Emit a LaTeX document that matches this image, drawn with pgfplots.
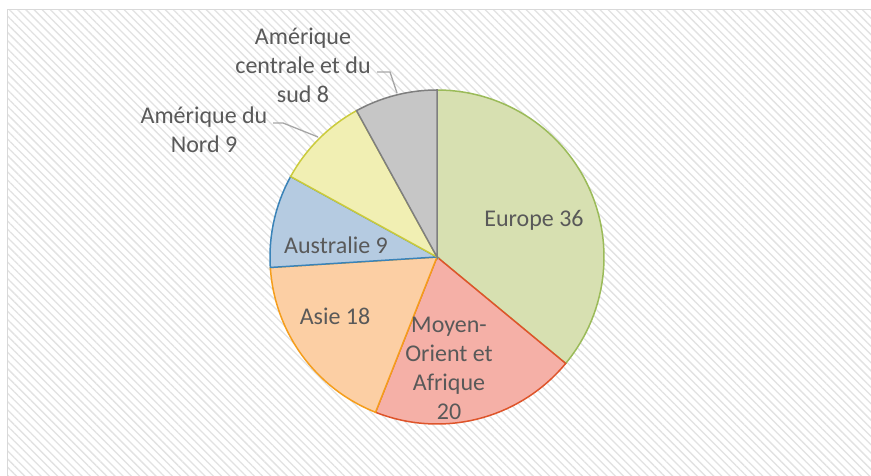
\documentclass[border=0pt]{standalone}
\usepackage{pgfplots}
\pgfplotsset{compat=1.18}
\usepackage{fontspec}
\setmainfont{Carlito}
\usetikzlibrary{patterns.meta}
\definecolor{lbl}{RGB}{89,89,89}
\definecolor{hatch}{RGB}{226,226,226}
\definecolor{frame}{RGB}{217,217,217}
\definecolor{euF}{RGB}{215,224,177}\definecolor{euD}{RGB}{155,187,89}
\definecolor{moF}{RGB}{245,176,167}\definecolor{moD}{RGB}{222,84,42}
\definecolor{asF}{RGB}{252,207,164}\definecolor{asD}{RGB}{245,158,28}
\definecolor{auF}{RGB}{181,203,225}\definecolor{auD}{RGB}{58,131,184}
\definecolor{noF}{RGB}{241,239,179}\definecolor{noD}{RGB}{203,203,60}
\definecolor{ceF}{RGB}{198,198,198}\definecolor{ceD}{RGB}{127,127,127}
% values (percent)
\def\vEu{36}\def\vMo{20}\def\vAs{18}\def\vAu{9}\def\vNo{9}\def\vCe{8}
\def\cx{437}\def\cy{219}\def\R{167}
\begin{document}
\begin{tikzpicture}
\begin{axis}[
  at={(0,0)}, anchor=south west,
  x=1pt, y=1pt,
  xmin=0, xmax=871, ymin=0, ymax=476,
  hide axis, no markers, samples=90, variable=\t,
]
% background
\fill[white] (axis cs:0,0) rectangle (axis cs:871,476);
\fill[pattern={Lines[angle=-45,distance=5.8pt,line width=1.3pt]}, pattern color=hatch]
  (axis cs:7.5,-10) rectangle (axis cs:880,466);
\draw[frame, line width=1pt] (axis cs:7.5,-10) -- (axis cs:7.5,466) -- (axis cs:880,466);
% slices
\addplot[fill=euF, draw=euD, line width=1.5pt, domain={90-3.6*(\vEu)}:{90}]
  ({\cx+\R*cos(\t)},{\cy+\R*sin(\t)}) -- (axis cs:\cx,\cy) -- cycle;
\addplot[fill=moF, draw=moD, line width=1.5pt, domain={90-3.6*(\vEu+\vMo)}:{90-3.6*(\vEu)}]
  ({\cx+\R*cos(\t)},{\cy+\R*sin(\t)}) -- (axis cs:\cx,\cy) -- cycle;
\addplot[fill=asF, draw=asD, line width=1.5pt, domain={90-3.6*(\vEu+\vMo+\vAs)}:{90-3.6*(\vEu+\vMo)}]
  ({\cx+\R*cos(\t)},{\cy+\R*sin(\t)}) -- (axis cs:\cx,\cy) -- cycle;
\addplot[fill=auF, draw=auD, line width=1.5pt, domain={90-3.6*(\vEu+\vMo+\vAs+\vAu)}:{90-3.6*(\vEu+\vMo+\vAs)}]
  ({\cx+\R*cos(\t)},{\cy+\R*sin(\t)}) -- (axis cs:\cx,\cy) -- cycle;
\addplot[fill=noF, draw=noD, line width=1.5pt, domain={90-3.6*(\vEu+\vMo+\vAs+\vAu+\vNo)}:{90-3.6*(\vEu+\vMo+\vAs+\vAu)}]
  ({\cx+\R*cos(\t)},{\cy+\R*sin(\t)}) -- (axis cs:\cx,\cy) -- cycle;
\addplot[fill=ceF, draw=ceD, line width=1.5pt, domain={90-3.6*(\vEu+\vMo+\vAs+\vAu+\vNo+\vCe)}:{90-3.6*(\vEu+\vMo+\vAs+\vAu+\vNo)}]
  ({\cx+\R*cos(\t)},{\cy+\R*sin(\t)}) -- (axis cs:\cx,\cy) -- cycle;
% leader lines
\draw[gray!70, line width=1.3pt] (axis cs:273,353) -- (axis cs:283,353) -- (axis cs:318,339);
\draw[gray!70, line width=1.3pt] (axis cs:377,404) -- (axis cs:390,404) -- (axis cs:397,383);
% labels
\tikzset{lab/.style={text=lbl, align=center, font=\fontsize{24}{29}\selectfont, inner sep=0pt}}
\node[lab] at (axis cs:534,256) {Europe \vEu};
\node[lab] at (axis cs:449,108) {Moyen-\\Orient et\\Afrique\\\vMo};
\node[lab] at (axis cs:335,160) {Asie \vAs};
\node[lab] at (axis cs:336,231) {Australie \vAu};
\node[lab] at (axis cs:204,346) {Amérique du\\Nord \vNo};
\node[lab] at (axis cs:303,411) {Amérique\\centrale et du\\sud \vCe};
\end{axis}
\pgfresetboundingbox
\path (0,0) rectangle (871pt,476pt);
\end{tikzpicture}
\end{document}
